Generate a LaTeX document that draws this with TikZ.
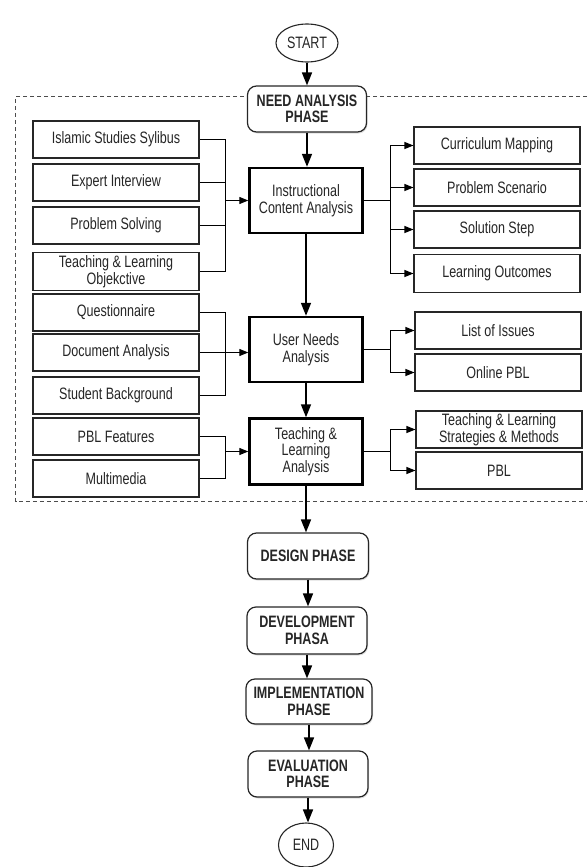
\documentclass[tikz,border=0pt]{standalone}
\usepackage{fontspec}
\setmainfont{Liberation Sans}[FakeStretch=0.76]
\usetikzlibrary{arrows.meta,shapes.geometric,shadows}

\begin{document}
\begin{tikzpicture}[x=1pt,y=-1pt,
  every node/.style={font=\fontsize{16.5}{16.5}\selectfont, text=black!85, align=center, inner sep=0pt},
  item/.style={draw=black!85, line width=1.1pt, fill=white, minimum width=166pt, minimum height=37pt},
  stage/.style={draw=black, line width=2.4pt, fill=white, minimum width=113pt, minimum height=65pt},
  phase/.style={draw=black!85, line width=1.2pt, rounded corners=9pt, fill=white, minimum height=46pt,
    font=\fontsize{16.5}{16.5}\selectfont\bfseries,
    drop shadow={shadow xshift=1pt, shadow yshift=-1.5pt, opacity=0.25}},
  terminal/.style={draw=black!85, line width=1.1pt, ellipse, fill=white},
  flow/.style={line width=1.6pt, -{Triangle[length=13pt,width=10pt]}},
  feed/.style={line width=1.1pt},
  feedarrow/.style={line width=1.1pt, -{Triangle[length=9pt,width=7pt]}},
  frame/.style={draw=black!70, line width=1pt, dash pattern=on 4pt off 3pt}
]
\useasboundingbox (0,0) rectangle (587,867);

% dashed frame of the need analysis phase (open on the right)
\draw[frame] (587,96.5) -- (15.5,96.5) -- (15.5,501.5) -- (587,501.5);

% main flow
\node[terminal, minimum width=62pt, minimum height=38pt] (start) at (307,43) {START};
\node[phase, minimum width=119pt] (need) at (307,109) {NEED ANALYSIS\\PHASE};
\node[stage] (ica) at (306,200.5) {Instructional\\Content Analysis};
\node[stage] (una) at (306,349.5) {User Needs\\Analysis};
\node[stage, minimum height=66pt] (tla) at (306,451.5) {Teaching \&\\Learning\\Analysis};
\node[phase, minimum width=121pt] (des) at (308,556) {DESIGN PHASE};
\node[phase, minimum width=120pt, minimum height=47pt] (dev) at (307,630.5) {DEVELOPMENT\\PHASA};
\node[phase, minimum width=126pt, minimum height=45pt] (imp) at (309,701.5) {IMPLEMENTATION\\PHASE};
\node[phase, minimum width=120pt] (eva) at (308,774) {EVALUATION\\PHASE};
\node[terminal, minimum width=55pt, minimum height=44pt] (end) at (306,845) {END};

% inputs
\node[item] (isl) at (116,139.5) {Islamic Studies Sylibus};
\node[item] (exp) at (116,182.5) {Expert Interview};
\node[item] (prs) at (116,225.5) {Problem Solving};
\node[item, minimum height=38pt] (obj) at (116,271.5) {Teaching \& Learning\\Objekctive};
\node[item] (que) at (116,312.5) {Questionnaire};
\node[item] (doc) at (116,352.5) {Document Analysis};
\node[item] (stu) at (116,395.5) {Student Background};
\node[item] (pbf) at (116,436.5) {PBL Features};
\node[item] (mm) at (116,478.5) {Multimedia};

% outputs
\node[item] (cur) at (497,145.5) {Curriculum Mapping};
\node[item] (psc) at (497,187.5) {Problem Scenario};
\node[item] (sol) at (497,229.5) {Solution Step};
\node[item, minimum height=38pt] (lo) at (497,273.5) {Learning Outcomes};
\node[item] (iss) at (498,330.5) {List of Issues};
\node[item] (opbl) at (498,372.5) {Online PBL};
\node[item] (tls) at (499,429.5) {Teaching \& Learning\\Strategies \& Methods};
\node[item] (pbl) at (499,470.5) {PBL};

% vertical flow arrows
\draw[flow] (start.south) -- (start.south |- need.north);
\draw[flow] (need.south) -- (need.south |- ica.north);
\draw[flow] (ica.south) -- (ica.south |- una.north);
\draw[flow] (una.south) -- (una.south |- tla.north);
\draw[flow] (tla.south) -- (tla.south |- des.north);
\draw[flow] (des.south) -- (des.south |- dev.north);
\draw[flow] (dev.south) -- (dev.south |- imp.north);
\draw[flow] (imp.south) -- (imp.south |- eva.north);
\draw[flow] (eva.south) -- (eva.south |- end.north);

% junctions of the brackets
\path (ica.west) ++(-23,0) coordinate (jl1);
\path (ica.east) ++(27,0) coordinate (jr1);
\coordinate (jl2) at (doc.east -| jl1);
\path (una.east) ++(27,0) coordinate (jr2);
\path (tla.west) ++(-23,0) coordinate (jl3);
\path (tla.east) ++(27,0) coordinate (jr3);

% instructional content analysis
\foreach \s in {isl,exp,prs,obj} \draw[feed] (\s.east) -| (jl1);
\draw[feedarrow] (jl1) -- (ica.west);
\draw[feed] (ica.east) -- (jr1);
\foreach \t in {cur,psc,sol,lo} \draw[feedarrow] (jr1) |- (\t.west);

% user needs analysis
\foreach \s in {que,stu} \draw[feed] (\s.east) -| (jl2);
\draw[feedarrow] (doc.east) -- (doc.east -| una.west);
\draw[feed] (una.east) -- (jr2);
\foreach \t in {iss,opbl} \draw[feedarrow] (jr2) |- (\t.west);

% teaching & learning analysis
\foreach \s in {pbf,mm} \draw[feed] (\s.east) -| (jl3);
\draw[feedarrow] (jl3) -- (tla.west);
\draw[feed] (tla.east) -- (jr3);
\foreach \t in {tls,pbl} \draw[feedarrow] (jr3) |- (\t.west);
\end{tikzpicture}
\end{document}
